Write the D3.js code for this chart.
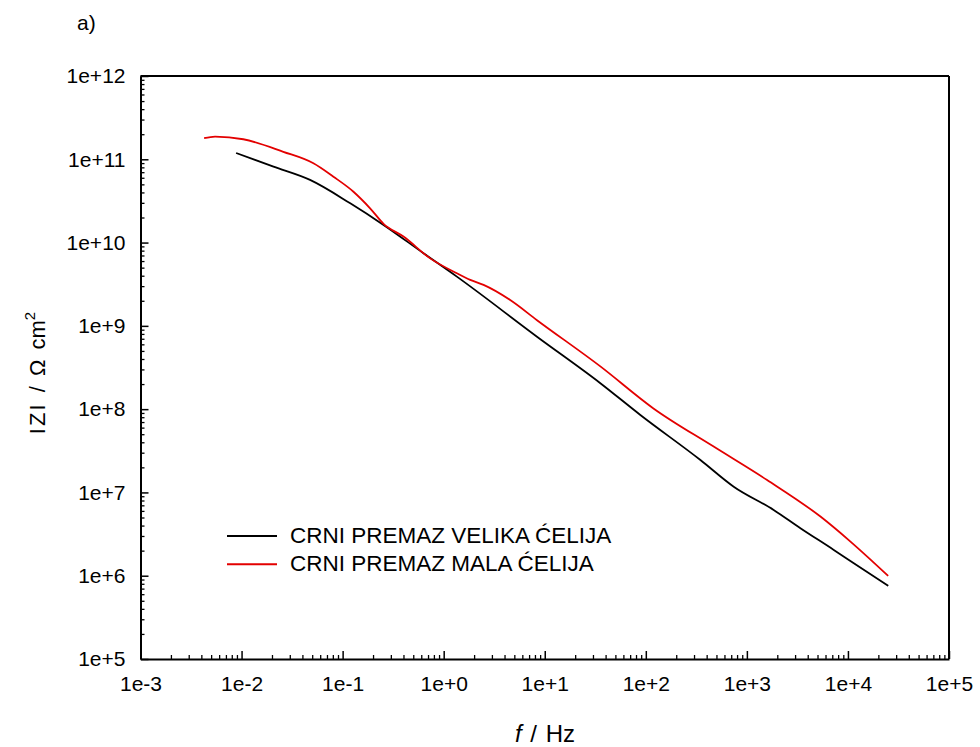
<!DOCTYPE html>
<meta charset="utf-8">
<script src="https://cdn.jsdelivr.net/npm/d3@7"></script>
<style>
body { margin: 0; background: #fff; }
svg text { font-family: "Liberation Sans", Arial, sans-serif; fill: #000; }
</style>
<body>
<script>

// data (f in Hz, |Z| in Ohm cm2)
var velika_f = [0.00883, 0.0207, 0.0476, 0.119, 0.254, 0.631, 1.35, 8.38, 35.5, 88.3, 347, 741, 1841, 3388, 7244, 11430, 25000]
var velika_z = [1.19e11, 8.15e10, 5.65e10, 2.96e10, 1.63e10, 7.45e9, 3.90e9, 7.41e8, 2.05e8, 8.51e7, 2.45e7, 1.17e7, 6.17e6, 3.72e6, 2.04e6, 1.41e6, 7.55e5]

var mala_f = [0.00426, 0.00547, 0.0104, 0.0259, 0.0514, 0.0811, 0.128, 0.187, 0.254, 0.400, 0.735, 1.35, 1.83, 2.48, 4.55, 8.38, 35.5, 119, 469, 1585, 5346, 10590, 25000]
var mala_z = [1.79e11, 1.87e11, 1.74e11, 1.23e11, 8.95e10, 6.18e10, 4.08e10, 2.58e10, 1.68e10, 1.18e10, 6.46e9, 4.28e9, 3.56e9, 3.10e9, 2.04e9, 1.17e9, 3.26e8, 1.02e8, 3.55e7, 1.41e7, 5.13e6, 2.57e6, 9.95e5]

var x_ticks = [1e-3, 1e-2, 1e-1, 1e0, 1e1, 1e2, 1e3, 1e4, 1e5]
var y_ticks = [1e5, 1e6, 1e7, 1e8, 1e9, 1e10, 1e11, 1e12]
var series_names = ["CRNI PREMAZ VELIKA ĆELIJA", "CRNI PREMAZ MALA ĆELIJA"]
var series_colors = ["#000000", "#e30000"]

var width = 980
var height = 747
var plot_left = 140.5, plot_right = 949, plot_top = 76, plot_bottom = 659

var svg = d3.select("body").append("svg")
            .attr("width", width)
            .attr("height", height)

var x = d3.scaleLog().domain([1e-3, 1e5]).range([plot_left, plot_right])
var y = d3.scaleLog().domain([1e5, 1e12]).range([plot_bottom, plot_top])

function fmt(d) {
  var e = Math.round(Math.log10(d))
  return "1e" + (e < 0 ? "-" : "+") + Math.abs(e)
}

// minor ticks 2..9 in every decade
var x_minor = []
x_ticks.slice(0, -1).forEach(function(d) { for (var k = 2; k < 10; ++k) x_minor.push(d * k) })
var y_minor = []
y_ticks.slice(0, -1).forEach(function(d) { for (var k = 2; k < 10; ++k) y_minor.push(d * k) })

// frame top and right (no ticks there)
svg.append("line").attr("x1", plot_left).attr("x2", plot_right).attr("y1", plot_top).attr("y2", plot_top)
   .style("stroke", "#000").style("stroke-width", 2)
svg.append("line").attr("x1", plot_right).attr("x2", plot_right).attr("y1", plot_top).attr("y2", plot_bottom)
   .style("stroke", "#000").style("stroke-width", 2)

// x axis
svg.append("g")
   .attr("transform", "translate(0," + plot_bottom + ")")
   .call(d3.axisBottom(x).tickValues(x_minor).tickSizeInner(-4).tickSizeOuter(0).tickFormat(""))
   .call(g => g.select(".domain").remove())
   .call(g => g.selectAll("line").style("stroke-width", 1.3))

svg.append("g")
   .attr("transform", "translate(0," + plot_bottom + ")")
   .call(d3.axisBottom(x).tickValues(x_ticks).tickSizeInner(-8).tickSizeOuter(0).tickPadding(17).tickFormat(fmt))
   .call(g => g.select(".domain").style("stroke-width", 2))
   .call(g => g.selectAll("line").style("stroke-width", 1.5))
   .call(g => g.selectAll("text").style("font-size", "21px"))

// y axis
svg.append("g")
   .attr("transform", "translate(" + plot_left + ",0)")
   .call(d3.axisLeft(y).tickValues(y_minor).tickSizeInner(-4).tickSizeOuter(0).tickFormat(""))
   .call(g => g.select(".domain").remove())
   .call(g => g.selectAll("line").style("stroke-width", 1.3))

svg.append("g")
   .attr("transform", "translate(" + plot_left + ",0)")
   .call(d3.axisLeft(y).tickValues(y_ticks).tickSizeInner(-8).tickSizeOuter(0).tickPadding(15).tickFormat(fmt))
   .call(g => g.select(".domain").style("stroke-width", 2))
   .call(g => g.selectAll("line").style("stroke-width", 1.5))
   .call(g => g.selectAll("text").style("font-size", "21px"))

// curves
var line = d3.line().x(d => x(d[0])).y(d => y(d[1])).curve(d3.curveMonotoneX)

svg.append("path")
   .attr("d", line(d3.zip(velika_f, velika_z)))
   .attr("fill", "none").attr("stroke", series_colors[0]).attr("stroke-width", 1.8)

svg.append("path")
   .attr("d", line(d3.zip(mala_f, mala_z)))
   .attr("fill", "none").attr("stroke", series_colors[1]).attr("stroke-width", 1.8)

// legend
series_names.forEach(function(name, i) {
  var ly = 536 + i * 28.3
  svg.append("line").attr("x1", 227).attr("x2", 277).attr("y1", ly).attr("y2", ly)
     .style("stroke", series_colors[i]).style("stroke-width", 2)
  svg.append("text").attr("x", 290).attr("y", ly + 6.8)
     .style("font-size", "22.5px")
     .text(name)
})

// axis titles
var xt = svg.append("text")
   .attr("x", 545).attr("y", 742)
   .style("text-anchor", "middle")
   .style("font-size", "24px")
   .style("word-spacing", "2px")
xt.append("tspan").style("font-style", "italic").text("f")
xt.append("tspan").text(" / Hz")

var yt = svg.append("text")
   .attr("transform", "translate(45,373) rotate(-90)")
   .style("text-anchor", "middle")
   .style("font-size", "22px")
   .style("word-spacing", "4px")
yt.append("tspan").style("letter-spacing", "2px").text("IZI")
yt.append("tspan").text(" / Ω cm")
yt.append("tspan").attr("dy", -10).style("font-size", "15px").text("2")

svg.append("text")
   .attr("x", 77).attr("y", 30)
   .style("font-size", "21px")
   .text("a)")

</script>
</body>
